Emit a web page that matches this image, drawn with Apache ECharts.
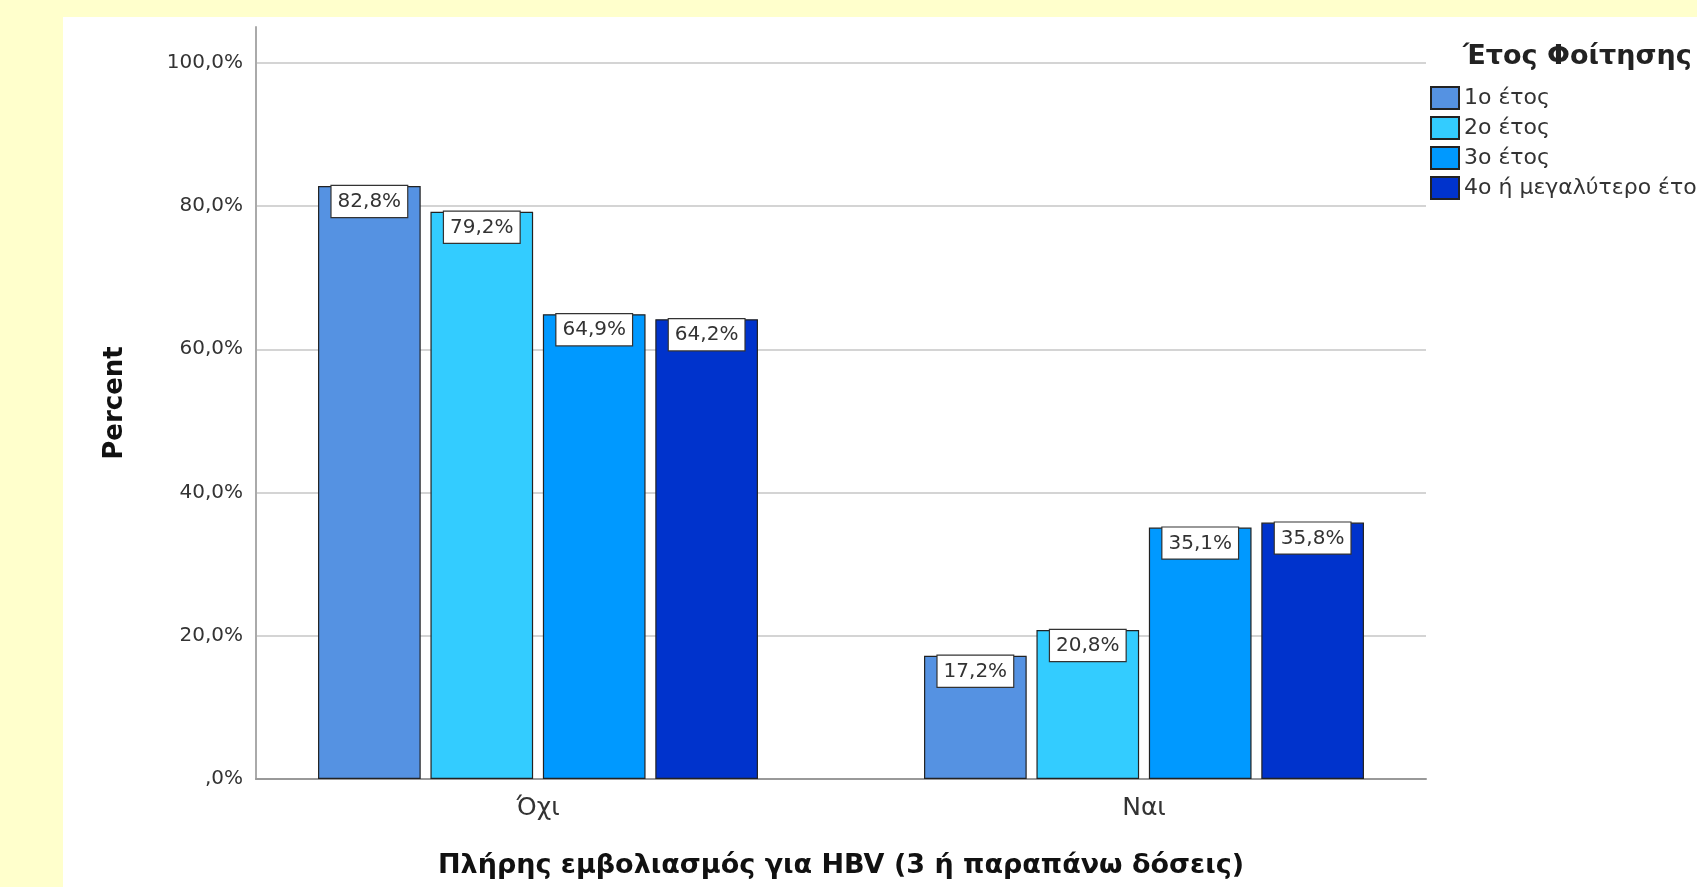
<!DOCTYPE html>
<html lang="el">

<head>
    <meta charset="UTF-8">
    <title>Πλήρης εμβολιασμός για HBV</title>
    <script src="https://cdn.jsdelivr.net/npm/echarts@6/dist/echarts.min.js"></script>
    <style>
        html, body { margin: 0; padding: 0; background: #ffffcc; }
        #chart { width: 1697px; height: 887px; }
    </style>
</head>

<body>
    <div id="chart"></div>

    <script>
        // δεδομένα
        var categories = ["Όχι", "Ναι"];
        var years = ["1ο έτος", "2ο έτος", "3ο έτος", "4ο ή μεγαλύτερο έτος"];
        var year1 = [82.8, 17.2];
        var year2 = [79.2, 20.8];
        var year3 = [64.9, 35.1];
        var year4 = [64.2, 35.8];
        var colors = ["#5592e2", "#33ccff", "#0099ff", "#0033cc"];

        function pct(v) {
            var s = v.toFixed(1).replace(".", ",");
            if (s.indexOf("0,") === 0) s = s.substring(1);
            return s + "%";
        }

        var myChart = echarts.init(document.getElementById("chart"));

        var seriesData = [year1, year2, year3, year4];
        var series = seriesData.map(function (d, i) {
            return {
                name: years[i],
                type: "bar",
                xAxisIndex: 0,
                yAxisIndex: 0,
                data: d,
                barGap: "9.5%",
                barCategoryGap: "27.4%",
                itemStyle: {
                    color: colors[i],
                    borderColor: "#222",
                    borderWidth: 1.2
                },
                label: {
                    show: true,
                    position: "insideTop",
                    distance: 0,
                    formatter: function (p) { return pct(p.value); },
                    fontSize: 20,
                    lineHeight: 20,
                    color: "#333",
                    backgroundColor: "#fff",
                    borderColor: "#333",
                    borderWidth: 1.2,
                    padding: [6, 6, 5, 6]
                }
            };
        });

        var option = {
            backgroundColor: "#ffffcc",
            animation: false,
            textStyle: { fontFamily: "DejaVu Sans" },
            graphic: [{
                type: "rect",
                left: 63,
                top: 17,
                z: -10,
                shape: { width: 1697 - 63, height: 887 - 17 },
                style: { fill: "#ffffff" }
            }],
            title: {
                text: "Έτος Φοίτησης",
                left: 1458,
                top: 38,
                textStyle: {
                    fontFamily: "DejaVu Sans",
                    fontSize: 27,
                    fontWeight: "bold",
                    color: "#222"
                }
            },
            legend: {
                data: years,
                orient: "vertical",
                left: 1425,
                top: 81,
                itemWidth: 28,
                itemHeight: 22,
                itemGap: 6,
                icon: "rect",
                textStyle: {
                    fontFamily: "DejaVu Sans",
                    fontSize: 22,
                    lineHeight: 22,
                    color: "#333"
                }
            },
            // grid 0: bars, grid 1: axes and gridlines
            grid: [{
                left: 235,
                top: 27,
                width: 1212,
                height: 752
            }, {
                left: 256,
                top: 27,
                width: 1170,
                height: 752
            }],
            xAxis: [{
                type: "category",
                gridIndex: 0,
                data: categories,
                axisLine: { show: false },
                axisTick: { show: false },
                axisLabel: {
                    fontSize: 25,
                    color: "#333",
                    margin: 17
                }
            }, {
                type: "value",
                gridIndex: 1,
                min: 0,
                max: 1,
                axisLine: { show: true, onZero: false, lineStyle: { color: "#999", width: 2 } },
                axisTick: { show: false },
                axisLabel: { show: false },
                splitLine: { show: false },
                name: "Πλήρης εμβολιασμός για HBV (3 ή παραπάνω δόσεις)",
                nameLocation: "middle",
                nameGap: 73,
                nameTextStyle: {
                    fontSize: 27,
                    fontWeight: "bold",
                    color: "#111"
                }
            }],
            yAxis: [{
                type: "value",
                gridIndex: 0,
                min: 0,
                max: 105,
                show: false
            }, {
                type: "value",
                gridIndex: 1,
                min: 0,
                max: 105,
                interval: 20,
                axisLine: { show: true, lineStyle: { color: "#aaa", width: 2 } },
                axisTick: { show: false },
                axisLabel: {
                    formatter: function (v) { return pct(v); },
                    showMaxLabel: false,
                    fontSize: 20,
                    color: "#333",
                    margin: 13
                },
                splitLine: {
                    showMaxLine: false,
                    lineStyle: { color: "#d4d4d4", width: 2 }
                },
                name: "Percent",
                nameLocation: "middle",
                nameGap: 128,
                nameTextStyle: {
                    fontSize: 26,
                    fontWeight: "bold",
                    color: "#111"
                }
            }],
            series: series
        };

        myChart.setOption(option);
    </script>
</body>

</html>
